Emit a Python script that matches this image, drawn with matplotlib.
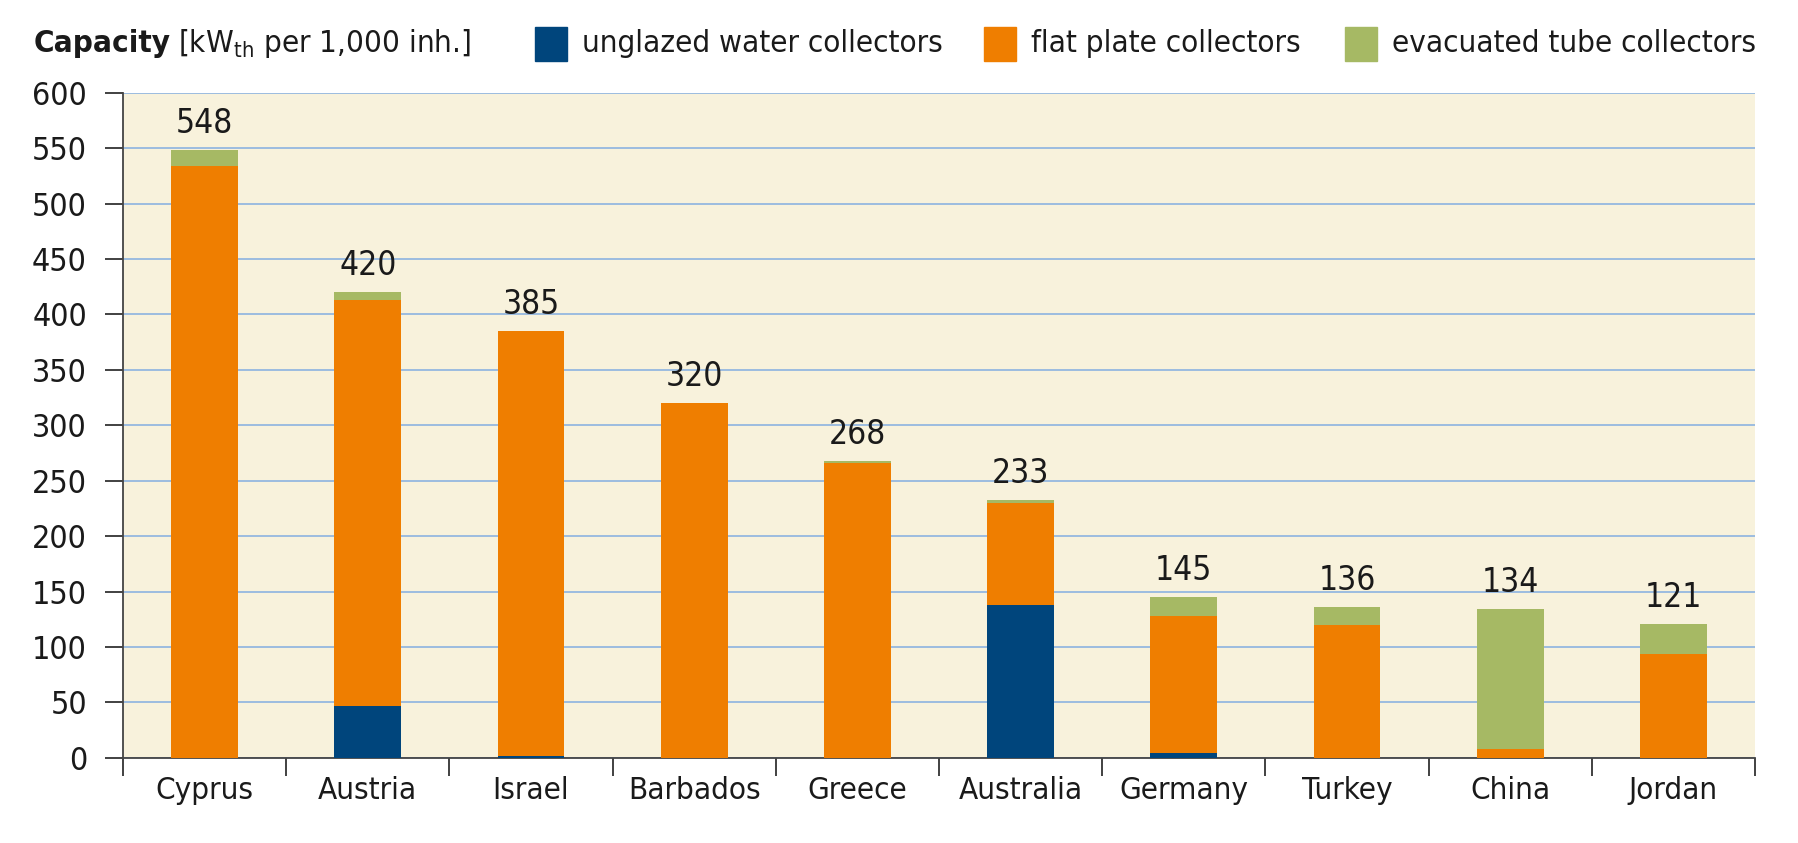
import matplotlib.pyplot as plt
from matplotlib.patches import Rectangle
import numpy as np

plt.rcParams['font.family'] = ['DejaVu Sans']
plt.rcParams['font.stretch'] = 'condensed'
plt.rcParams['mathtext.fontset'] = 'custom'
plt.rcParams['mathtext.rm'] = 'DejaVu Sans'

paises = ["Cyprus", "Austria", "Israel", "Barbados", "Greece",
          "Australia", "Germany", "Turkey", "China", "Jordan"]
unglazed = [0, 47, 2, 0, 0, 138, 4, 0, 0, 0]
flat = [534, 366, 383, 320, 266, 92, 124, 120, 8, 94]
evacuated = [14, 7, 0, 0, 2, 3, 17, 16, 126, 27]
totais = [548, 420, 385, 320, 268, 233, 145, 136, 134, 121]

cor_ung = "#00457C"
cor_flat = "#EF7E00"
cor_evac = "#A6B964"
cor_fundo = "#F8F2DC"
cor_grade = "#8DB3E0"
cor_texto = "#1A1A1A"

fig = plt.figure(figsize=(17.99, 8.43), dpi=100)
ax = fig.add_axes([0.0684, 0.101, 0.9071, 0.789])
ax.set_facecolor(cor_fundo)

x = np.arange(len(paises))
w = 0.41
ung = np.array(unglazed)
fl = np.array(flat)
ev = np.array(evacuated)
ax.bar(x, ung, w, color=cor_ung, zorder=3)
ax.bar(x, fl, w, bottom=ung, color=cor_flat, zorder=3)
ax.bar(x, ev, w, bottom=ung + fl, color=cor_evac, zorder=3)

for i, t in enumerate(totais):
    ax.text(x[i], t + 9, str(t), ha='center', va='bottom',
            fontsize=24, color=cor_texto)

ax.set_xlim(-0.5, len(paises) - 0.5)
ax.set_ylim(0, 600)
ax.set_yticks(range(0, 601, 50))
ax.yaxis.grid(True, color=cor_grade, linewidth=1.2, zorder=0)
ax.set_axisbelow(True)

ax.set_xticks(x)
ax.set_xticklabels(paises)
ax.set_xticks(np.arange(-0.5, len(paises)), minor=True)
ax.tick_params(axis='x', which='major', length=0, pad=13, labelsize=22.5,
               colors=cor_texto)
ax.tick_params(axis='x', which='minor', length=13, width=1.3,
               direction='out', color='#333333')
ax.tick_params(axis='y', length=13, width=1.3, pad=13, labelsize=23,
               colors=cor_texto)
ax.tick_params(axis='y', color='#333333')

for s in ['top', 'right']:
    ax.spines[s].set_visible(False)
for s in ['left', 'bottom']:
    ax.spines[s].set_color('#444444')
    ax.spines[s].set_linewidth(1.3)

# titulo do eixo
t1 = fig.text(34 / 1799, 1 - 44 / 843, "Capacity", fontsize=22.5,
              fontweight='bold', va='center', color=cor_texto)
fig.canvas.draw()
bb = t1.get_window_extent()
fig.text(bb.x1 / 1799 + 0.004, 1 - 44 / 843,
         r"[kW$_\mathregular{th}$ per 1,000 inh.]", fontsize=22.5,
         va='center', color=cor_texto)

# legenda manual
itens = [("unglazed water collectors", cor_ung, 535),
         ("flat plate collectors", cor_flat, 984),
         ("evacuated tube collectors", cor_evac, 1345)]
for nome, cor, px in itens:
    fig.patches.append(Rectangle((px / 1799, 1 - 61 / 843), 32 / 1799, 34 / 843,
                                 transform=fig.transFigure, color=cor))
    fig.text((px + 47) / 1799, 1 - 44 / 843, nome, fontsize=22.5,
             va='center', color=cor_texto)

plt.savefig("out.png", dpi=100)
